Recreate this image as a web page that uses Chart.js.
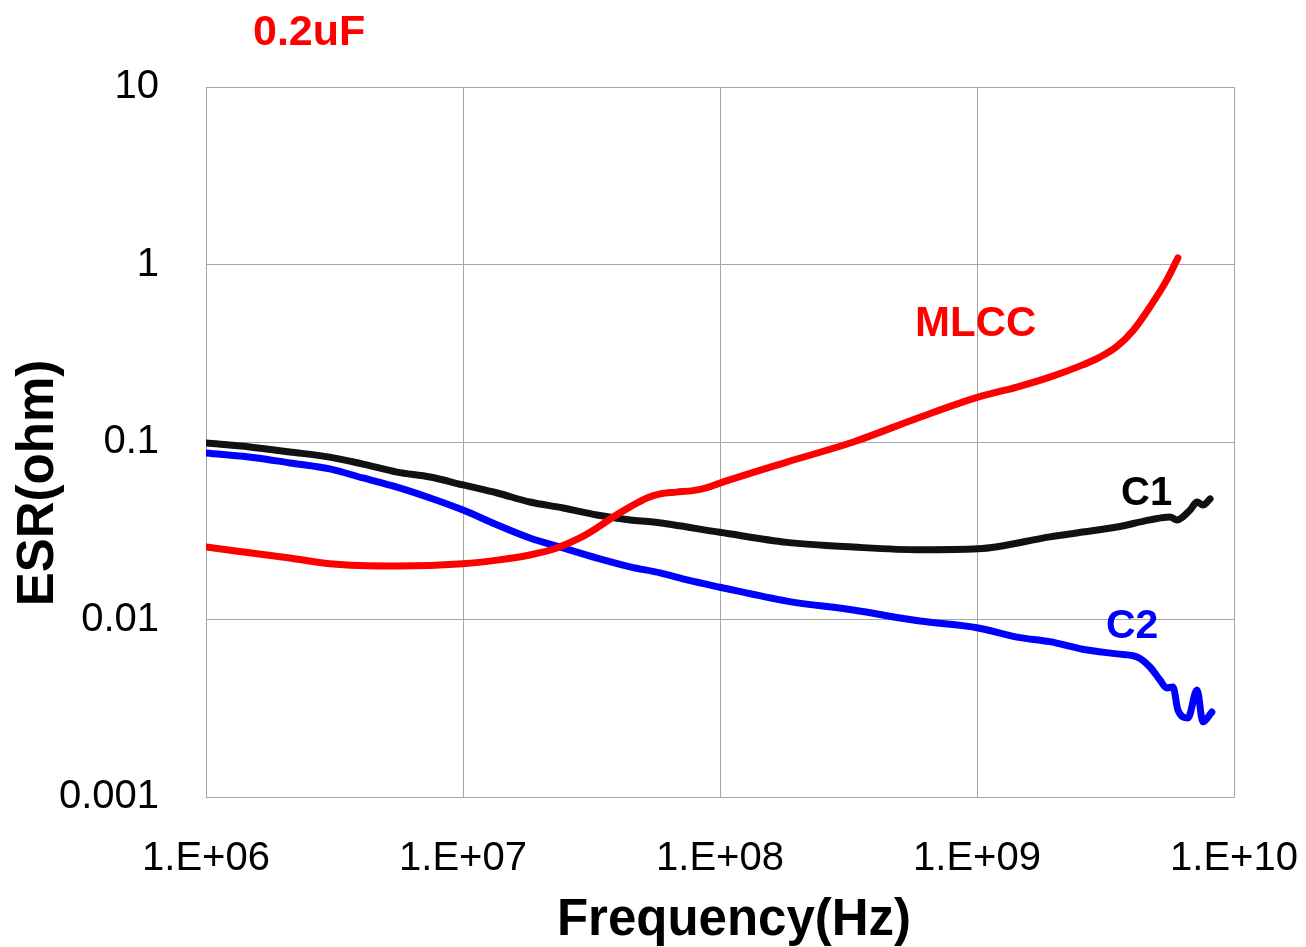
<!DOCTYPE html>
<html>
<head>
<meta charset="utf-8">
<script src="https://cdn.jsdelivr.net/npm/chart.js@4"></script>
<style>
  html, body { margin: 0; padding: 0; background: #ffffff; }
  #wrap { width: 1306px; height: 947px; }
</style>
</head>
<body>
<div id="wrap"><canvas id="c" width="1306" height="947"></canvas></div>
<script>
// ---- data (frequency in Hz, ESR in ohm) ----
const freqMLCC = [1e6, 2.12e6, 3.03e6, 5.53e6, 1e7, 1.36e7, 1.82e7, 2.32e7, 2.85e7, 3.32e7, 3.84e7, 4.47e7, 5.2e7, 5.85e7, 6.76e7, 7.85e7, 8.9e7, 1e8, 1.82e8, 3.3e8, 6.0e8, 1.01e9, 1.43e9, 1.92e9, 2.58e9, 3.01e9, 3.5e9, 4.05e9, 4.71e9, 5.48e9, 6.05e9];
const esrMLCC  = [0.0256, 0.0222, 0.0206, 0.0200, 0.0206, 0.0216, 0.0231, 0.0253, 0.0288, 0.0328, 0.0378, 0.0431, 0.0484, 0.0510, 0.0522, 0.0532, 0.0553, 0.0587, 0.0771, 0.100, 0.138, 0.179, 0.204, 0.232, 0.272, 0.301, 0.345, 0.425, 0.577, 0.819, 1.09];

const freqC1 = [1e6, 1.48e6, 2.12e6, 3.03e6, 4.08e6, 5.53e6, 7.45e6, 1e7, 1.36e7, 1.82e7, 2.45e7, 3.32e7, 4.47e7, 5.5e7, 1e8, 1.82e8, 3.3e8, 6.0e8, 1.01e9, 1.92e9, 2.58e9, 3.5e9, 4.71e9, 5.64e9, 6.0e9, 6.75e9, 7.18e9, 7.57e9, 8.07e9];
const esrC1  = [0.0986, 0.0937, 0.0879, 0.0822, 0.0751, 0.0677, 0.0635, 0.0573, 0.0516, 0.0459, 0.0425, 0.0388, 0.0364, 0.0354, 0.0310, 0.0272, 0.0256, 0.0247, 0.0250, 0.0292, 0.0311, 0.0332, 0.0364, 0.0378, 0.0364, 0.0414, 0.0459, 0.0441, 0.0478];

const freqC2 = [1e6, 1.58e6, 2.12e6, 3.03e6, 4.08e6, 5.53e6, 7.45e6, 1e7, 1.36e7, 1.82e7, 2.45e7, 3.32e7, 4.47e7, 5.85e7, 7.45e7, 1e8, 1.82e8, 3.3e8, 6.0e8, 1.01e9, 1.43e9, 1.92e9, 2.58e9, 3.5e9, 4.2e9, 4.71e9, 5.15e9, 5.48e9, 5.79e9, 6.05e9, 6.62e9, 7.18e9, 7.57e9, 8.2e9];
const esrC2  = [0.0867, 0.0813, 0.0762, 0.0705, 0.0627, 0.0557, 0.0484, 0.0414, 0.0341, 0.0288, 0.0253, 0.0222, 0.0198, 0.0183, 0.0167, 0.0152, 0.0127, 0.0113, 0.0098, 0.00896, 0.00796, 0.0075, 0.0068, 0.0064, 0.00615, 0.00540, 0.00456, 0.00411, 0.00417, 0.00309, 0.00279, 0.00401, 0.00265, 0.00301];

const xTickValues = [1e6, 1e7, 1e8, 1e9, 1e10];
const xTickLabels = ['1.E+06', '1.E+07', '1.E+08', '1.E+09', '1.E+10'];
const yTickValues = [0.001, 0.01, 0.1, 1, 10];
const yTickLabels = ['0.001', '0.01', '0.1', '1', '10'];

const seriesNames = ['MLCC', 'C1', 'C2'];
const chartNote = '0.2uF';
const xTitle = 'Frequency(Hz)';
const yTitle = 'ESR(ohm)';

// ---- helpers ----
function pts(fs, vs) { return fs.map((f, i) => ({ x: f, y: vs[i] })); }
function labelFor(values, labels, v) {
  const i = values.findIndex(t => Math.abs(Math.log10(t) - Math.log10(v)) < 1e-6);
  return i >= 0 ? labels[i] : '';
}
const FONT = '"Liberation Sans", Arial, Helvetica, sans-serif';

const textPlugin = {
  id: 'texts',
  afterDraw(chart) {
    const ctx = chart.ctx;
    ctx.save();
    ctx.textBaseline = 'alphabetic';
    ctx.textAlign = 'left';
    // note above plot
    ctx.fillStyle = '#ff0000';
    ctx.font = 'bold 43px ' + FONT;
    ctx.fillText(chartNote, 253, 45);
    // series labels
    ctx.font = 'bold 42px ' + FONT;
    ctx.fillStyle = '#ff0000';
    ctx.fillText(seriesNames[0], 915, 336);
    ctx.font = 'bold 40px ' + FONT;
    ctx.fillStyle = '#000000';
    ctx.fillText(seriesNames[1], 1121, 505);
    ctx.font = 'bold 41px ' + FONT;
    ctx.fillStyle = '#0000ff';
    ctx.fillText(seriesNames[2], 1106, 638);
    // axis titles
    ctx.fillStyle = '#000000';
    ctx.font = 'bold 51px ' + FONT;
    ctx.textAlign = 'center';
    ctx.fillText(xTitle, 734, 935);
    ctx.translate(53, 483);
    ctx.rotate(-Math.PI / 2);
    ctx.fillText(yTitle, 0, 0);
    ctx.restore();
  }
};

const GRID = '#a6a6a6';

new Chart(document.getElementById('c'), {
  type: 'line',
  data: {
    datasets: [
      { label: seriesNames[0], data: pts(freqMLCC, esrMLCC), borderColor: '#ff0000' },
      { label: seriesNames[1], data: pts(freqC1, esrC1), borderColor: '#111111' },
      { label: seriesNames[2], data: pts(freqC2, esrC2), borderColor: '#0000ff' }
    ]
  },
  options: {
    responsive: false,
    animation: false,
    layout: { padding: { top: 87, right: 72, bottom: 0, left: 0 } },
    elements: {
      point: { radius: 0, hoverRadius: 0 },
      line: { borderWidth: 7, cubicInterpolationMode: 'monotone', borderCapStyle: 'round', borderJoinStyle: 'round', fill: false }
    },
    plugins: { legend: { display: false }, tooltip: { enabled: false }, title: { display: false } },
    scales: {
      x: {
        type: 'logarithmic',
        min: 1e6, max: 1e10,
        afterBuildTicks: (s) => { s.ticks = xTickValues.map(v => ({ value: v })); },
        afterFit: (s) => { s.height = 150; s.paddingLeft = 0; s.paddingRight = 0; },
        grid: { color: GRID, lineWidth: 1, drawTicks: false },
        border: { color: GRID, width: 1 },
        ticks: {
          padding: 38, maxRotation: 0, autoSkip: false, color: '#000000',
          font: { family: FONT, size: 40 },
          callback: (v) => labelFor(xTickValues, xTickLabels, v)
        },
        title: { display: false, text: xTitle }
      },
      y: {
        type: 'logarithmic',
        min: 0.001, max: 10,
        afterBuildTicks: (s) => { s.ticks = yTickValues.map(v => ({ value: v })); },
        afterFit: (s) => { s.width = 206; s.paddingTop = 0; s.paddingBottom = 0; },
        grid: { color: GRID, lineWidth: 1, drawTicks: false },
        border: { color: GRID, width: 1 },
        ticks: {
          padding: 47, autoSkip: false, color: '#000000',
          font: { family: FONT, size: 40 },
          callback: (v) => labelFor(yTickValues, yTickLabels, v)
        },
        title: { display: false, text: yTitle }
      }
    }
  },
  plugins: [textPlugin]
});
</script>
</body>
</html>
